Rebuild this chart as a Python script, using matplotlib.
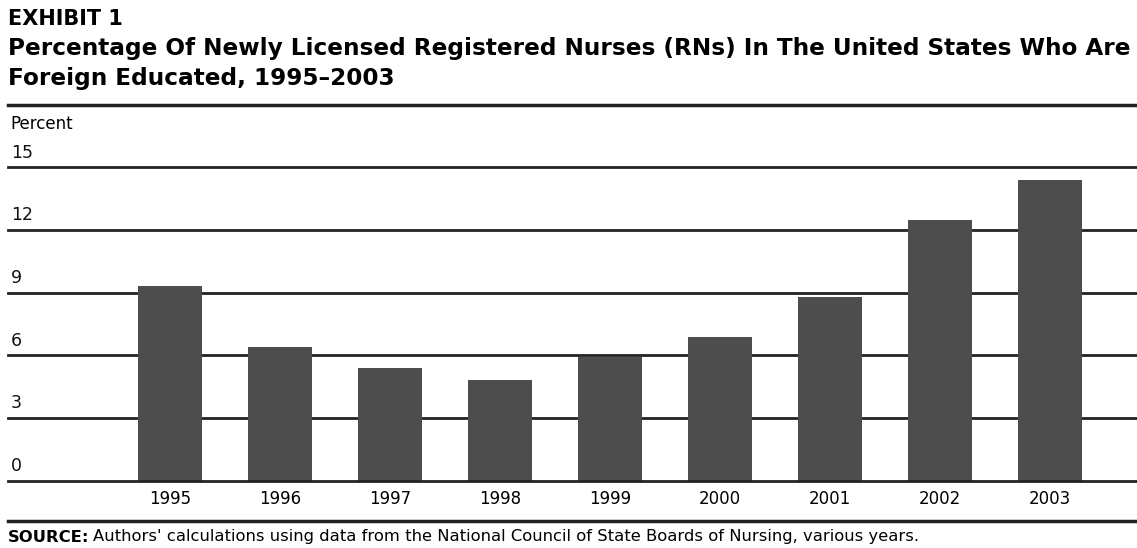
import numpy as np
import matplotlib.pyplot as plt
from matplotlib.lines import Line2D

years = ['1995', '1996', '1997', '1998', '1999', '2000', '2001', '2002', '2003']
pct = [9.3, 6.4, 5.4, 4.8, 5.9, 6.9, 8.8, 12.5, 14.4]
yticks = [0, 3, 6, 9, 12, 15]

fig = plt.figure(figsize=(11.37, 5.48), dpi=100)
ax = fig.add_axes([0.007, 0.1228, 0.993, 0.5719])

x = np.arange(len(years))
ax.bar(x, pct, width=0.58, color='#4d4d4d', zorder=3)

# horizontal rules instead of normal grid
for t in yticks:
    ax.axhline(t, color='#222222', linewidth=2, clip_on=False,
               zorder=2 if t > 0 else 4)

ax.set_xlim(-1.47, 8.79)
ax.set_ylim(0, 15)
for s in ax.spines.values():
    s.set_visible(False)
ax.set_yticks([])
ax.set_xticks(x)
ax.set_xticklabels(years, fontsize=12)
ax.tick_params(axis='x', length=0, pad=7)

# tick labels sit just above their lines
for t in yticks:
    ax.annotate(str(t), xy=(0, t), xycoords=('axes fraction', 'data'),
                xytext=(2, 4), textcoords='offset points',
                ha='left', va='bottom', fontsize=12.5, color='#111111')

fig.text(0.009, 1 - 124 / 548, 'Percent', ha='left', va='center', fontsize=12)

fig.text(0.007, 1 - 19 / 548, 'EXHIBIT 1', ha='left', va='center',
         fontsize=15, fontweight='bold')
fig.text(0.007, 1 - 48 / 548,
         'Percentage Of Newly Licensed Registered Nurses (RNs) In The United States Who Are',
         ha='left', va='center', fontsize=16.7, fontweight='bold')
fig.text(0.007, 1 - 78 / 548, 'Foreign Educated, 1995\u20132003',
         ha='left', va='center', fontsize=16.7, fontweight='bold')

# top and bottom rules
fig.add_artist(Line2D([0.007, 1.0], [1 - 105 / 548] * 2, color='#222222',
                      linewidth=2.5, transform=fig.transFigure))
fig.add_artist(Line2D([0.007, 1.0], [1 - 521 / 548] * 2, color='#222222',
                      linewidth=2.5, transform=fig.transFigure))

src = fig.text(0.007, 1 - 537 / 548, 'SOURCE:', ha='left', va='center',
               fontsize=11.8, fontweight='bold')
fig.canvas.draw()
bb = src.get_window_extent()
fig.text((bb.x1 + 4) / fig.bbox.width, 1 - 537 / 548,
         "Authors' calculations using data from the National Council of State Boards of Nursing, various years.",
         ha='left', va='center', fontsize=11.8)

fig.savefig('out.png', dpi=100)
